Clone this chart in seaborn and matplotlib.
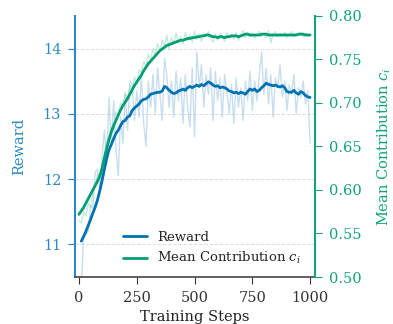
import numpy as np
import pandas as pd
import matplotlib
matplotlib.use("Agg")
import matplotlib.pyplot as plt
import seaborn as sns

# raw logged values, one every 10 steps (0..1000)
steps = list(range(0, 1001, 10))

reward_raw = [
    10.1, 10.3, 11.15, 11.15, 11.2, 11.6, 11.55, 12.1, 12.15, 11.85,
    12.35, 12.75, 12.25, 13.25, 12.55, 13.2, 12.45, 12.05, 12.95, 12.55,
    13.3, 12.75, 13.5, 13.45, 12.9, 13.35, 12.95, 13.6, 12.85, 12.5,
    13.5, 13.1, 13.6, 13.0, 13.7, 13.3, 12.9, 13.85, 13.6, 13.1,
    13.5, 12.95, 13.65, 13.2, 13.55, 12.85, 13.6, 13.1, 12.8, 13.7,
    12.65, 13.95, 13.4, 13.75, 13.1, 13.6, 13.3, 13.7, 12.9, 13.65,
    13.2, 13.55, 12.95, 13.6, 13.35, 13.0, 13.45, 12.85, 13.55, 13.1,
    13.4, 12.9, 13.5, 13.2, 13.65, 13.05, 13.5, 13.2, 13.6, 13.95,
    13.3, 13.7, 13.15, 13.6, 12.95, 13.55, 13.4, 13.75, 13.25, 13.5,
    13.05, 13.45, 13.3, 13.6, 13.0, 13.4, 13.25, 13.5, 13.15, 13.35,
    12.55,
]

contrib_raw = [
    0.565, 0.562, 0.575, 0.570, 0.585, 0.580, 0.598, 0.605, 0.618, 0.612,
    0.630, 0.640, 0.655, 0.662, 0.672, 0.668, 0.690, 0.685, 0.700, 0.695,
    0.712, 0.703, 0.720, 0.712, 0.730, 0.722, 0.738, 0.735, 0.748, 0.742,
    0.756, 0.750, 0.762, 0.755, 0.768, 0.760, 0.772, 0.765, 0.778, 0.762,
    0.775, 0.768, 0.780, 0.770, 0.776, 0.768, 0.781, 0.772, 0.778, 0.770,
    0.782, 0.773, 0.779, 0.771, 0.780, 0.776, 0.782, 0.774, 0.770, 0.779,
    0.772, 0.780, 0.776, 0.771, 0.781, 0.775, 0.779, 0.773, 0.781, 0.772,
    0.778, 0.783, 0.775, 0.781, 0.776, 0.780, 0.774, 0.779, 0.782, 0.776,
    0.780, 0.775, 0.783, 0.769, 0.779, 0.782, 0.776, 0.780, 0.777, 0.781,
    0.775, 0.779, 0.782, 0.776, 0.780, 0.777, 0.781, 0.776, 0.780, 0.779,
    0.778,
]

# smoothed curves
reward_steps = list(range(10, 1001, 10))
reward_smooth = [
    11.05, 11.12, 11.20, 11.29, 11.38, 11.48, 11.57, 11.68, 11.82, 11.98,
    12.15, 12.32, 12.45, 12.53, 12.62, 12.70, 12.75, 12.82, 12.88, 12.90,
    12.95, 12.97, 13.05, 13.09, 13.12, 13.15, 13.20, 13.22, 13.23, 13.26,
    13.30, 13.31, 13.32, 13.33, 13.33, 13.35, 13.42, 13.40, 13.36, 13.33,
    13.31, 13.32, 13.35, 13.36, 13.38, 13.36, 13.40, 13.42, 13.40, 13.42,
    13.44, 13.42, 13.45, 13.43, 13.46, 13.49, 13.47, 13.44, 13.42, 13.43,
    13.40, 13.41, 13.40, 13.38, 13.35, 13.34, 13.32, 13.33, 13.31, 13.33,
    13.32, 13.30, 13.34, 13.38, 13.36, 13.38, 13.34, 13.36, 13.40, 13.43,
    13.47, 13.45, 13.44, 13.43, 13.44, 13.42, 13.41, 13.43, 13.40, 13.34,
    13.33, 13.33, 13.36, 13.32, 13.30, 13.34, 13.32, 13.28, 13.26, 13.25,
]

contrib_smooth = [
    0.572, 0.576, 0.580, 0.585, 0.590, 0.595, 0.600, 0.605, 0.610, 0.616,
    0.625, 0.637, 0.648, 0.658, 0.667, 0.674, 0.680, 0.686, 0.692, 0.697,
    0.701, 0.705, 0.710, 0.715, 0.720, 0.724, 0.728, 0.732, 0.737, 0.741,
    0.745, 0.748, 0.751, 0.754, 0.757, 0.760, 0.762, 0.764, 0.766, 0.767,
    0.768, 0.769, 0.770, 0.771, 0.772, 0.772, 0.773, 0.774, 0.774, 0.775,
    0.775, 0.776, 0.776, 0.777, 0.777, 0.778, 0.778, 0.777, 0.776, 0.776,
    0.775, 0.776, 0.776, 0.775, 0.776, 0.776, 0.777, 0.777, 0.777, 0.776,
    0.777, 0.778, 0.779, 0.779, 0.778, 0.778, 0.778, 0.778, 0.778, 0.779,
    0.779, 0.779, 0.778, 0.778, 0.778, 0.778, 0.778, 0.778, 0.778, 0.778,
    0.778, 0.778, 0.778, 0.778, 0.778, 0.779, 0.779, 0.779, 0.778, 0.778,
    0.778,
]

blue = "#0072B2"
blue_ax = "#2b88c4"
green = "#009E73"
green_ax = "#12a37a"

sns.set_style("ticks")
plt.rcParams["font.family"] = ["DejaVu Serif"]
plt.rcParams["mathtext.fontset"] = "dejavuserif"

df_raw = pd.DataFrame({"step": steps, "reward": reward_raw, "contrib": contrib_raw})
df_r = pd.DataFrame({"step": reward_steps, "reward": reward_smooth})
df_c = pd.DataFrame({"step": steps, "contrib": contrib_smooth})

fig = plt.figure(figsize=(3.93, 3.24), dpi=100)
ax = fig.add_axes([0.191, 0.145, 0.611, 0.806])
ax2 = ax.twinx()

sns.lineplot(data=df_raw, x="step", y="reward", ax=ax, color="#8fbfe0",
             alpha=0.5, linewidth=1.0)
sns.lineplot(data=df_r, x="step", y="reward", ax=ax, color=blue,
             linewidth=2.0, label="Reward")
sns.lineplot(data=df_raw, x="step", y="contrib", ax=ax2, color="#7fcfb5",
             alpha=0.45, linewidth=1.0)
sns.lineplot(data=df_c, x="step", y="contrib", ax=ax2, color=green,
             linewidth=2.0, label="Mean Contribution $c_i$")

ax.set_xlim(-17, 1022)
ax.set_ylim(10.5, 14.5)
ax2.set_ylim(0.5, 0.8)
ax.set_xticks([0, 250, 500, 750, 1000])
ax.set_yticks([11, 12, 13, 14])
ax2.set_yticks([0.5, 0.55, 0.6, 0.65, 0.7, 0.75, 0.8])
ax2.set_yticklabels(["0.50", "0.55", "0.60", "0.65", "0.70", "0.75", "0.80"])

ax.grid(axis="y", linestyle="--", color="#dddddd", linewidth=0.7)
ax.set_xlabel("Training Steps", fontsize=10.5, color="#222222", labelpad=4)
ax.set_ylabel("Reward", fontsize=10.5, color=blue_ax, labelpad=12)
ax2.set_ylabel("Mean Contribution $c_i$", fontsize=10.5, color=green_ax,
               labelpad=10)

ax.tick_params(axis="y", colors=blue_ax, labelsize=10.5, length=5, pad=5)
ax.tick_params(axis="x", colors="#333333", labelsize=10.5, length=5, pad=5)
ax2.tick_params(axis="y", colors=green_ax, labelsize=10.5, length=5, pad=5)

for a in (ax, ax2):
    a.spines["top"].set_visible(False)
ax.spines["right"].set_visible(False)
ax2.spines["left"].set_visible(False)
ax2.spines["bottom"].set_visible(False)
ax.spines["left"].set_color(blue_ax)
ax.spines["left"].set_linewidth(1.5)
ax2.spines["right"].set_color(green_ax)
ax2.spines["right"].set_linewidth(1.5)
ax.spines["bottom"].set_color("#444444")
ax.spines["bottom"].set_linewidth(1.2)

h1, l1 = ax.get_legend_handles_labels()
h2, l2 = ax2.get_legend_handles_labels()
if ax2.get_legend():
    ax2.get_legend().remove()
ax.legend(h1 + h2, l1 + l2, loc="lower right", frameon=False, fontsize=9.5,
          handlelength=1.8, borderaxespad=0.4, bbox_to_anchor=(0.985, 0.0))

fig.savefig("out.png", dpi=100)
